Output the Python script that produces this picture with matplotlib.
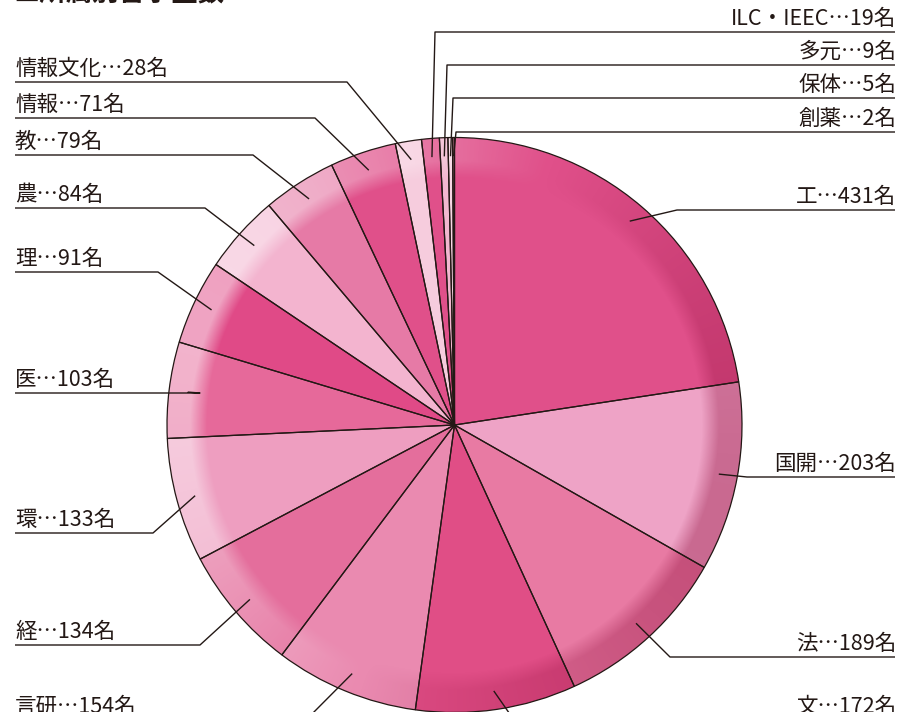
import numpy as np
import matplotlib
matplotlib.use('Agg')
import matplotlib.pyplot as plt
from matplotlib.patches import Circle

plt.rcParams['font.family'] = ['Noto Sans CJK JP', 'DejaVu Sans']

# ---- data ----
categories = ['工', '国開', '法', '文', '言研', '経', '環', '医', '理', '農',
              '教', '情報', '情報文化', 'ILC・IEEC', '多元', '保体', '創薬']
counts = [431, 203, 189, 172, 154, 134, 133, 103, 91, 84, 79, 71, 28, 19, 9, 5, 2]
title = '■所属別留学生数'
unit = '名'

# ---- style ----
colors = ['#E0508A', '#EEA3C6', '#E87AA3', '#E04E86', '#EA8AB0', '#E46E9C',
          '#EE9EC0', '#E6699A', '#E04A87', '#F3B4CF', '#E67AA6', '#E0508A',
          '#F6CCDD', '#E0508A', '#F2B8D0', '#F7D6E4', '#E87AA3']
ink = '#231815'

# label layout (pixel coords from top): side, underline y, elbow x
label_side = ['R', 'R', 'R', 'R', 'L', 'L', 'L', 'L', 'L', 'L',
              'L', 'L', 'L', 'R', 'R', 'R', 'R']
label_line_y = [210, 477, 657, 720, 720, 645, 533, 393, 272, 208,
                155, 118, 82, 32, 65, 98, 132]
label_elbow_x = [677, 747, 670, 514, 306, 200, 153, 200, 158, 205,
                 253, 315, 347, 435, 447, 453, 456]

W, H = 899, 712
fig = plt.figure(figsize=(W / 100, H / 100), dpi=100)
ax = fig.add_axes([0, 0, 1, 1])

cx, cy, R = 454.5, H - 425, 287.5

wedges, _ = ax.pie(counts, colors=colors, startangle=90, counterclock=False,
                   center=(cx, cy), radius=R,
                   wedgeprops=dict(edgecolor='none', linewidth=0))

# rim shading overlay (bevel look)
yy, xx = np.mgrid[0:H, 0:W] + 0.5
dx, dy = xx - cx, yy - cy
r = np.hypot(dx, dy) / R
ang = np.arctan2(dy, dx)
light = np.cos(ang - np.deg2rad(160))
band = np.clip((r - 0.86) / 0.06, 0, 1)
img = np.zeros((H, W, 4))
pos = light > 0
img[pos, :3] = [1.0, 1.0, 1.0]
img[~pos, :3] = [0.55, 0.04, 0.22]
img[..., 3] = np.where(pos, 0.5 * light, 0.38 * (-light)) * band
im = ax.imshow(img, extent=(0, W, 0, H), origin='lower', zorder=2,
               interpolation='bilinear')
im.set_clip_path(Circle((cx, cy), R, transform=ax.transData))

# edges on top
edges, _ = ax.pie(counts, startangle=90, counterclock=False, center=(cx, cy),
                  radius=R,
                  wedgeprops=dict(fill=False, edgecolor=ink, linewidth=0.9))
for e in edges:
    e.set_zorder(3)

# labels with leader lines
fs = 15.5
for w, name, n, side, ly, ex in zip(wedges, categories, counts, label_side,
                                    label_line_y, label_elbow_x):
    mid = np.deg2rad((w.theta1 + w.theta2) / 2)
    axp = cx + 0.935 * R * np.cos(mid)
    ayp = cy + 0.935 * R * np.sin(mid)
    y = H - ly
    txt = f'{name}…{n}{unit}'
    if side == 'L':
        ax.plot([15, ex, axp], [y, y, ayp], color=ink, lw=1.0, zorder=4,
                solid_capstyle='butt', clip_on=False)
        ax.text(15, y + 13, txt, ha='left', va='center', fontsize=fs,
                color=ink, zorder=5)
    else:
        ax.plot([895, ex, axp], [y, y, ayp], color=ink, lw=1.0, zorder=4,
                solid_capstyle='butt', clip_on=False)
        ax.text(896, y + 13, txt, ha='right', va='center', fontsize=fs,
                color=ink, zorder=5)

ax.text(13, H + 6, title, ha='left', va='center', fontsize=19,
        fontweight='bold', color=ink)

ax.set_xlim(0, W)
ax.set_ylim(0, H)
ax.set_aspect('auto')
ax.axis('off')
fig.savefig('out.png', dpi=100)
